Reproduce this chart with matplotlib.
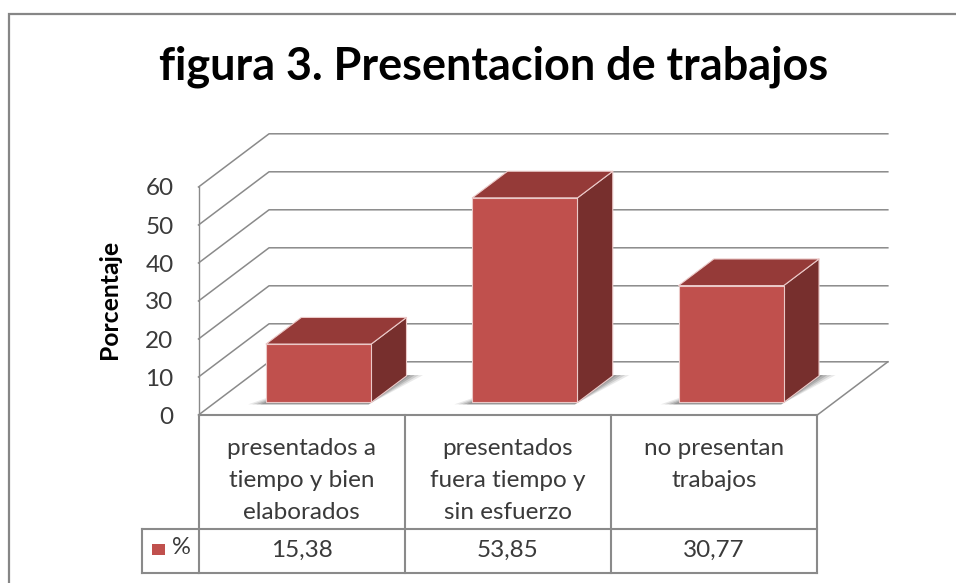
import matplotlib

matplotlib.use("Agg")
import matplotlib.pyplot as plt
from matplotlib.patches import Polygon, Rectangle
from matplotlib.transforms import blended_transform_factory

plt.rcParams["font.family"] = ["Lato", "DejaVu Sans"]

TITLE = "figura 3. Presentacion de trabajos"
Y_LABEL = "Porcentaje"
SERIES_NAME = "%"
CATEGORIES = [
    "presentados a\ntiempo y bien\nelaborados",
    "presentados\nfuera tiempo y\nsin esfuerzo",
    "no presentan\ntrabajos",
]
VALUES = [15.38, 53.85, 30.77]
VALUE_LABELS = ["15,38", "53,85", "30,77"]
Y_TICKS = [0, 10, 20, 30, 40, 50, 60]

W, H = 956, 583
GRID = "#8a8a8a"
TEXT = "#3a3a3a"
FRONT = "#C0504D"
TOP = "#953A38"
SIDE = "#772F2D"
EDGE = "#EBC9C8"

# depth of the fake 3d box, in category / value units
DEPTH_X = 0.342
DEPTH_Y = 14.0
BAR_W = 0.51
BAR_OFF = 0.247
D0, D1 = 0.235, 0.735


def project(x, y, d):
    return (x + d * DEPTH_X, y + d * DEPTH_Y)


def draw_bar(ax, i, value):
    x0 = i + BAR_OFF
    x1 = x0 + BAR_W
    front = [project(x0, 0, D0), project(x1, 0, D0), project(x1, value, D0), project(x0, value, D0)]
    side = [project(x1, 0, D0), project(x1, 0, D1), project(x1, value, D1), project(x1, value, D0)]
    top = [project(x0, value, D0), project(x1, value, D0), project(x1, value, D1), project(x0, value, D1)]

    # soft shadow on the floor, a few stacked layers
    for grow, alpha in [(0.075, 0.14), (0.055, 0.2), (0.035, 0.28), (0.015, 0.35)]:
        shadow = [
            project(x0 - grow, 0, D0 - 0.035),
            project(x1, 0, D0 - 0.035),
            project(x1 + grow, 0, D1 + 0.015),
            project(x1, 0, D1 + 0.015),
            project(x1, 0, D0),
            project(x0, 0, D0 + grow * 2),
        ]
        ax.add_patch(Polygon(shadow, fc="#666666", ec="none", alpha=alpha, clip_on=False, zorder=3))

    for pts, color in [(side, SIDE), (top, TOP), (front, FRONT)]:
        ax.add_patch(Polygon(pts, fc=color, ec=EDGE, lw=0.8, joinstyle="round", clip_on=False, zorder=4))


fig = plt.figure(figsize=(W / 100, H / 100), dpi=100)

# full figure overlay in pixel coordinates, for the frame and the table rows
frame = fig.add_axes([0, 0, 1, 1])
frame.set_xlim(0, W)
frame.set_ylim(H, 0)
frame.axis("off")
frame.plot([9.5, 9.5, W], [H, 14, 14], color="#868686", lw=1.6, solid_joinstyle="miter")

left, right, y_zero, y_top = 198.5, 817.3, 415.0, 187.0
ax = fig.add_axes([left / W, 1 - y_zero / H, (right - left) / W, (y_zero - y_top) / H])
ax.patch.set_visible(False)
ax.set_xlim(0, len(CATEGORIES))
ax.set_ylim(0, 60)
for name in ["top", "right", "bottom"]:
    ax.spines[name].set_visible(False)
ax.spines["left"].set_color(GRID)
ax.spines["left"].set_linewidth(1.0)
ax.set_xticks([])
ax.set_yticks(Y_TICKS)
ax.tick_params(axis="y", length=0, pad=18, labelsize=17.5, labelcolor=TEXT)

# wall and floor grid
for tick in Y_TICKS:
    x_back, y_back = project(0, tick, 1)
    x_end, _ = project(len(CATEGORIES), tick, 1)
    ax.plot([0, x_back, x_end], [tick, y_back, y_back], color=GRID, lw=1.1, clip_on=False, zorder=1)
ax.plot(
    [len(CATEGORIES), project(len(CATEGORIES), 0, 1)[0]],
    [0, DEPTH_Y],
    color=GRID,
    lw=1.1,
    clip_on=False,
    zorder=1,
)

for i, value in enumerate(VALUES):
    draw_bar(ax, i, value)

# data table under the chart
tr = blended_transform_factory(ax.transData, frame.transData)
row_a, row_b, row_c = 415.0, 529.3, 572.7
legend_left = 141.7
n = len(CATEGORIES)
table_kw = dict(color=GRID, lw=1.5, transform=tr, clip_on=False, zorder=5)
ax.plot([0, n], [row_a, row_a], **table_kw)
ax.plot([0, n], [row_b, row_b], **table_kw)
ax.plot([0, n], [row_c, row_c], **table_kw)
for i in range(n + 1):
    ax.plot([i, i], [row_a, row_c], **table_kw)
frame.plot([legend_left, left], [row_b, row_b], color=GRID, lw=1.5)
frame.plot([legend_left, left], [row_c, row_c], color=GRID, lw=1.5)
frame.plot([legend_left, legend_left], [row_b, row_c], color=GRID, lw=1.5)

for i, (cat, label) in enumerate(zip(CATEGORIES, VALUE_LABELS)):
    ax.text(
        i + 0.5, 438, cat, transform=tr, ha="center", va="top",
        fontsize=17.5, color=TEXT, linespacing=1.66, clip_on=False,
    )
    ax.text(
        i + 0.5, 550, label, transform=tr, ha="center", va="center",
        fontsize=17.5, color=TEXT, clip_on=False,
    )

frame.add_patch(Rectangle((151.7, 544), 13.3, 11, fc=FRONT, ec="none"))
frame.text(181, 548, SERIES_NAME, ha="center", va="center", fontsize=17, color=TEXT)

frame.text(493.5, 67, TITLE, ha="center", va="center", fontsize=32.4, fontweight="bold", color="black")
frame.text(110, 299, Y_LABEL, ha="center", va="center", rotation=90, fontsize=17.8, fontweight="bold", color="black")

fig.savefig("out.png", dpi=100)
